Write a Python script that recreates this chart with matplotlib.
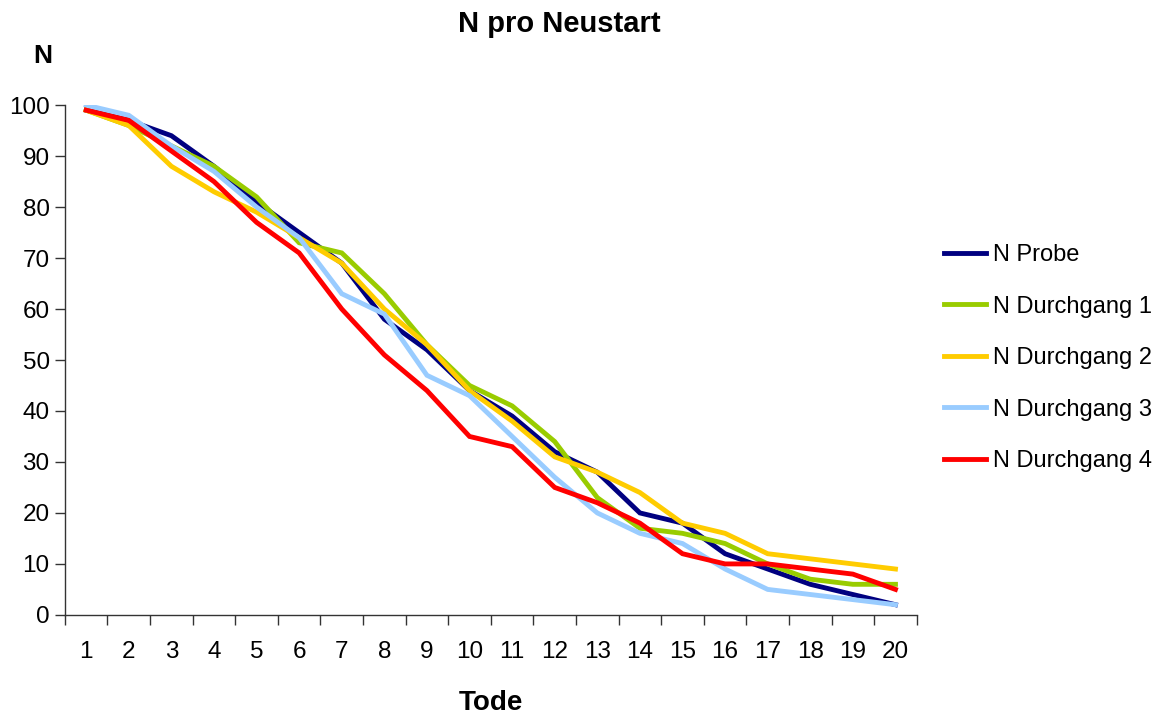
import numpy as np
import matplotlib
matplotlib.use("Agg")
import matplotlib.pyplot as plt

plt.rcParams['font.family'] = ['Liberation Sans', 'DejaVu Sans']

tode = list(range(1, 21))

n_probe = [99, 97, 94, 88, 81, 75, 69, 58, 52, 44, 39, 32, 28, 20, 18, 12, 9, 6, 4, 2]
n_durchgang_1 = [99, 96, 92, 88, 82, 73, 71, 63, 53, 45, 41, 34, 23, 17, 16, 14, 10, 7, 6, 6]
n_durchgang_2 = [99, 96, 88, 83, 79, 74, 69, 60, 53, 44, 38, 31, 28, 24, 18, 16, 12, 11, 10, 9]
n_durchgang_3 = [100, 98, 92, 87, 80, 74, 63, 59, 47, 43, 35, 27, 20, 16, 14, 9, 5, 4, 3, 2]
n_durchgang_4 = [99, 97, 91, 85, 77, 71, 60, 51, 44, 35, 33, 25, 22, 18, 12, 10, 10, 9, 8, 5]

serien = [
    ("N Probe", n_probe, "#000080"),
    ("N Durchgang 1", n_durchgang_1, "#99CC00"),
    ("N Durchgang 2", n_durchgang_2, "#FFCC00"),
    ("N Durchgang 3", n_durchgang_3, "#99CCFF"),
    ("N Durchgang 4", n_durchgang_4, "#FF0000"),
]

fig = plt.figure(figsize=(11.59, 7.15), dpi=100)
ax = fig.add_axes([0.056, 0.14, 0.735, 0.713])

x = np.arange(len(tode))
for name, werte, farbe in serien:
    ax.plot(x, werte, color=farbe, lw=3.5, label=name, solid_joinstyle='miter')

ax.set_xlim(-0.5, len(tode) - 0.5)
ax.set_ylim(0, 100)
ax.set_yticks(range(0, 101, 10))
ax.set_xticks(x)
ax.set_xticklabels([str(t) for t in tode])
ax.set_xticks(np.arange(-0.5, len(tode), 1), minor=True)
ax.tick_params(axis='x', which='major', length=0, pad=19, labelsize=17.5)
ax.tick_params(axis='x', which='minor', length=7, width=1, color='#333333')
ax.tick_params(axis='y', length=7, width=1, color='#333333', labelsize=17.5, pad=4)

for s in ['top', 'right']:
    ax.spines[s].set_visible(False)
for s in ['left', 'bottom']:
    ax.spines[s].set_color('#333333')
    ax.spines[s].set_linewidth(1)

fig.text(0.483, 0.966, "N pro Neustart", ha='center', va='center', fontsize=21, fontweight='bold')
fig.text(0.037, 0.922, "N", ha='center', va='center', fontsize=19, fontweight='bold')
fig.text(0.424, 0.017, "Tode", ha='center', va='center', fontsize=20, fontweight='bold')

fig.legend(loc='center left', bbox_to_anchor=(0.796, 0.499), frameon=False,
           fontsize=17, handlelength=1.8, handletextpad=0.3, labelspacing=1.25)

fig.savefig("out.png", dpi=100)
